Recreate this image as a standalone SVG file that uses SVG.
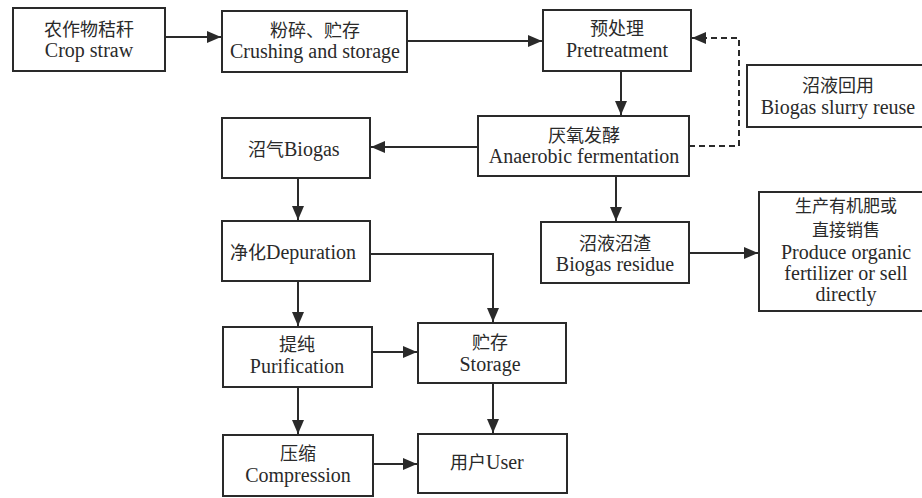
<svg xmlns="http://www.w3.org/2000/svg" width="922" height="498" viewBox="0 0 922 498">
<style>
.box{fill:#fff;stroke:#2a2a2a;stroke-width:2}
text{fill:#2a2a2a;text-anchor:middle}
.en{font-family:"Liberation Serif",serif;font-size:20px}
.cn{font-family:"Noto Sans CJK SC",sans-serif;font-size:18px}
.cn2{font-size:17px}
.s{text-anchor:start}
.e{text-anchor:end}
.c{fill:none;stroke:#2a2a2a;stroke-width:2}
.d{stroke-dasharray:6 4}
</style>
<defs>
<marker id="ah" markerUnits="userSpaceOnUse" markerWidth="14" markerHeight="12" refX="14" refY="6" orient="auto">
<path d="M0,0 L14,6 L0,12 Z" fill="#2a2a2a"/>
</marker>
</defs>
<rect width="922" height="498" fill="#fff"/>
<g id="connectors">
<path class="c" d="M165,37 H221" marker-end="url(#ah)"/>
<path class="c" d="M407,41 H542" marker-end="url(#ah)"/>
<path class="c" d="M621,71 V115" marker-end="url(#ah)"/>
<path class="c d" d="M689,146 H739 V38 H692" marker-end="url(#ah)"/>
<path class="c" d="M478,147 H371" marker-end="url(#ah)"/>
<path class="c" d="M298,178 V220" marker-end="url(#ah)"/>
<path class="c" d="M616,176 V221" marker-end="url(#ah)"/>
<path class="c" d="M689,253 H758" marker-end="url(#ah)"/>
<path class="c" d="M370,254 H493 V322" marker-end="url(#ah)"/>
<path class="c" d="M298,281 V326" marker-end="url(#ah)"/>
<path class="c" d="M372,352 H417" marker-end="url(#ah)"/>
<path class="c" d="M493,383 V433" marker-end="url(#ah)"/>
<path class="c" d="M298,387 V434" marker-end="url(#ah)"/>
<path class="c" d="M373,464 H417" marker-end="url(#ah)"/>
</g>
<g id="crop">
<rect class="box" x="13" y="8" width="152" height="63"/>
<text class="en" x="89" y="57">Crop straw</text>
<text class="cn" x="89" y="36">农作物秸秆</text>
</g>
<g id="crushing">
<rect class="box" x="222" y="11" width="185" height="61"/>
<text class="en" x="315" y="58">Crushing and storage</text>
<text class="cn" x="315" y="37">粉碎、贮存</text>
</g>
<g id="pretreatment">
<rect class="box" x="543" y="10" width="148" height="61"/>
<text class="en" x="617" y="57">Pretreatment</text>
<text class="cn" x="617" y="35">预处理</text>
</g>
<g id="slurry">
<rect class="box" x="747" y="65" width="182" height="62"/>
<text class="en" x="838" y="114">Biogas slurry reuse</text>
<text class="cn" x="838" y="92">沼液回用</text>
</g>
<g id="anaerobic">
<rect class="box" x="478" y="116" width="211" height="60"/>
<text class="en" x="584" y="163">Anaerobic fermentation</text>
<text class="cn" x="584" y="142">厌氧发酵</text>
</g>
<g id="biogas">
<rect class="box" x="222" y="118" width="148" height="60"/>
<text class="en s" x="284" y="156">Biogas</text>
<text class="cn e" x="284" y="156">沼气</text>
</g>
<g id="depuration">
<rect class="box" x="222" y="221" width="148" height="60"/>
<text class="en s" x="266" y="259">Depuration</text>
<text class="cn e" x="266" y="259">净化</text>
</g>
<g id="residue">
<rect class="box" x="541" y="222" width="148" height="61"/>
<text class="en" x="615" y="271">Biogas residue</text>
<text class="cn" x="615" y="250">沼液沼渣</text>
</g>
<g id="produce">
<rect class="box" x="759" y="192" width="172" height="119"/>
<text class="en" x="846" y="259">Produce organic<tspan x="846" dy="21">fertilizer or sell</tspan><tspan x="846" dy="21">directly</tspan></text>
<text class="cn cn2" x="846" y="212">生产有机肥或<tspan x="846" dy="24">直接销售</tspan></text>
</g>
<g id="purification">
<rect class="box" x="223" y="327" width="149" height="60"/>
<text class="en" x="297" y="373">Purification</text>
<text class="cn" x="297" y="351">提纯</text>
</g>
<g id="storage">
<rect class="box" x="418" y="323" width="148" height="60"/>
<text class="en" x="490" y="371">Storage</text>
<text class="cn" x="490" y="349">贮存</text>
</g>
<g id="compression">
<rect class="box" x="223" y="435" width="150" height="61"/>
<text class="en" x="298" y="482">Compression</text>
<text class="cn" x="298" y="460">压缩</text>
</g>
<g id="user">
<rect class="box" x="418" y="434" width="149" height="59"/>
<text class="en s" x="486" y="469">User</text>
<text class="cn e" x="486" y="469">用户</text>
</g>
</svg>
